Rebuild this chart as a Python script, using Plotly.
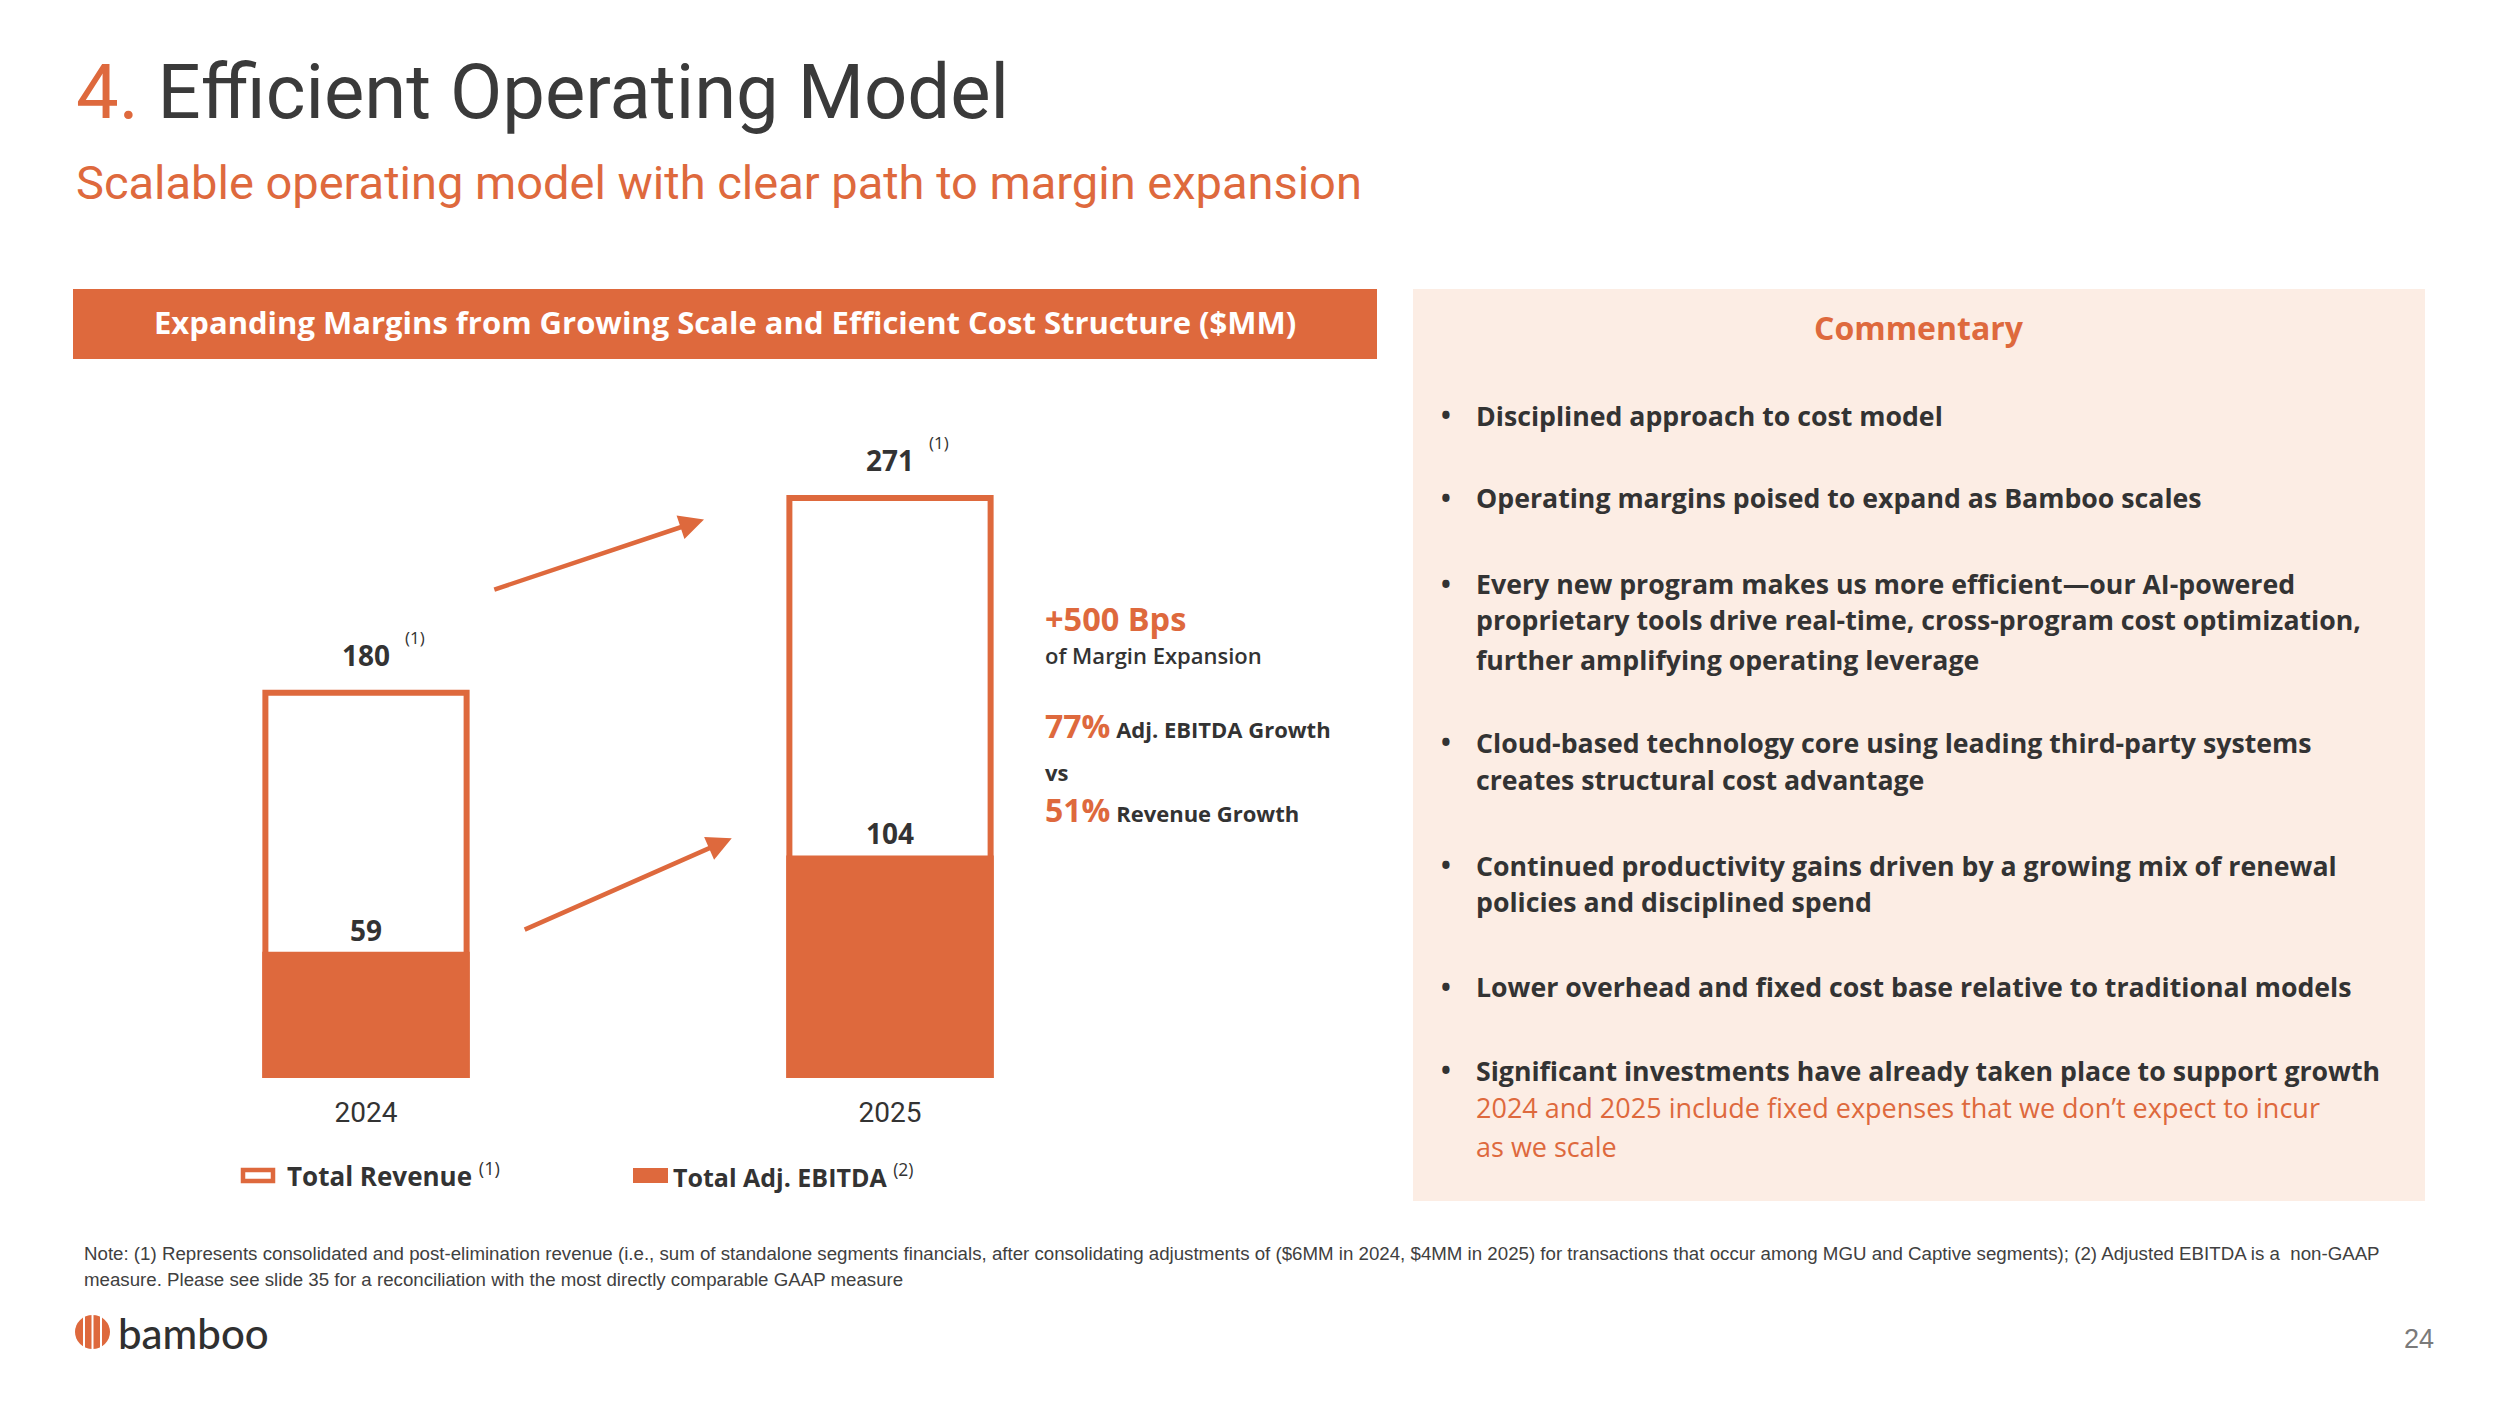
import plotly.graph_objects as go

W, H = 2500, 1406

# ---------------- data ----------------
years = ["2024", "2025"]
total_revenue = [180, 271]
adj_ebitda = [59, 104]
revenue_note = "(1)"
margin_expansion_bps = 500
ebitda_growth_pct = 77
revenue_growth_pct = 51

title_num = "4."
title_text = "Efficient Operating Model"
subtitle = "Scalable operating model with clear path to margin expansion"
chart_header = "Expanding Margins from Growing Scale and Efficient Cost Structure ($MM)"
legend_labels = ["Total Revenue", "Total Adj. EBITDA"]
legend_notes = ["(1)", "(2)"]
commentary_title = "Commentary"
bullets = [
    ["Disciplined approach to cost model"],
    ["Operating margins poised to expand as Bamboo scales"],
    ["Every new program makes us more efficient\u2014our AI-powered",
     "proprietary tools drive real-time, cross-program cost optimization,",
     "further amplifying operating leverage"],
    ["Cloud-based technology core using leading third-party systems",
     "creates structural cost advantage"],
    ["Continued productivity gains driven by a growing mix of renewal",
     "policies and disciplined spend"],
    ["Lower overhead and fixed cost base relative to traditional models"],
    ["Significant investments have already taken place to support growth"],
]
bullet_sub = ["2024 and 2025 include fixed expenses that we don\u2019t expect to incur",
              "as we scale"]
footnotes = [
    "Note: (1) Represents consolidated and post-elimination revenue (i.e., sum of standalone segments financials, after consolidating adjustments of ($6MM in 2024, $4MM in 2025) for transactions that occur among MGU and Captive segments); (2) Adjusted EBITDA is a  non-GAAP",
    "measure. Please see slide 35 for a reconciliation with the most directly comparable GAAP measure",
]
page_number = "24"
logo_text = "bamboo"

# ---------------- style ----------------
ORANGE = "#DE693D"
DARK = "#333333"
PEACH = "#FCEDE4"
FONT = "Roboto"
BODY = "Open Sans"


def px(x):
    return x / W


def py(y):
    return 1 - y / H


def txt(x, y, text, size, color=DARK, weight="normal", xanchor="left", family=BODY):
    return dict(x=px(x), y=py(y), xref="paper", yref="paper", text=text,
                showarrow=False, xanchor=xanchor, yanchor="middle",
                font=dict(family=family, size=size, color=color, weight=weight))


fig = go.Figure()

fig.add_trace(go.Bar(
    x=years, y=total_revenue, name=legend_labels[0], width=0.384,
    marker=dict(color="white", line=dict(color=ORANGE, width=6)),
    showlegend=False, hoverinfo="skip"))
fig.add_trace(go.Bar(
    x=years, y=adj_ebitda, name=legend_labels[1], width=0.396,
    marker=dict(color=ORANGE, line=dict(width=0)),
    showlegend=False, hoverinfo="skip"))

annotations = []
shapes = []

# title / subtitle
annotations.append(txt(74, 92, f"<span style='color:{ORANGE}'>{title_num}</span> {title_text}",
                       76, color="#3A3A3A", family=FONT))
annotations.append(txt(74, 182, subtitle, 47, color=ORANGE, family=FONT))

# chart header bar
shapes.append(dict(type="rect", xref="paper", yref="paper", x0=px(73), x1=px(1377),
                   y0=py(289), y1=py(359), fillcolor=ORANGE, line=dict(width=0), layer="below"))
annotations.append(txt(725, 322, chart_header, 31, color="white", weight="bold", xanchor="center"))

# commentary panel
shapes.append(dict(type="rect", xref="paper", yref="paper", x0=px(1413), x1=px(2425),
                   y0=py(289), y1=py(1201), fillcolor=PEACH, line=dict(width=0), layer="below"))
annotations.append(txt(1919, 327, commentary_title, 32, color=ORANGE, weight="bold",
                       xanchor="center"))

bullet_rows = [[415], [498], [584, 620, 659], [742, 779], [865, 902], [987], [1070]]
for lines, rows in zip(bullets, bullet_rows):
    annotations.append(txt(1439, rows[0], "\u2022", 26, color=DARK, weight="bold"))
    for line, yy in zip(lines, rows):
        annotations.append(txt(1474, yy, line, 26.7, color=DARK, weight="bold"))
for line, yy in zip(bullet_sub, [1107, 1146]):
    annotations.append(txt(1474, yy, line, 27, color=ORANGE))

# bar value labels (positioned on the data scale)
for i, rev in enumerate(total_revenue):
    annotations.append(dict(x=i, y=rev, xref="x", yref="y", text=f"<b>{rev}</b>",
                            showarrow=False, yanchor="bottom", yshift=17,
                            font=dict(family=BODY, size=28, color=DARK)))
    annotations.append(dict(x=i, y=rev, xref="x", yref="y", text=revenue_note,
                            showarrow=False, yanchor="bottom", yshift=42, xshift=49,
                            font=dict(family=BODY, size=17, color=DARK)))
for i, e in enumerate(adj_ebitda):
    annotations.append(dict(x=i, y=e, xref="x", yref="y", text=f"<b>{e}</b>",
                            showarrow=False, yanchor="bottom", yshift=1,
                            font=dict(family=BODY, size=28, color=DARK)))

# growth arrows (between the bars, on the data scale)
for (x0, y0, x1, y1) in [(0.242, 228, 0.645, 261), (0.30, 69, 0.698, 112)]:
    annotations.append(dict(x=x1, y=y1, ax=x0, ay=y0, xref="x", yref="y", axref="x", ayref="y",
                            text="", showarrow=True, arrowhead=2, arrowsize=1.1,
                            arrowwidth=4.5, arrowcolor=ORANGE, standoff=0))

# side statistics
annotations.append(txt(1043, 618, f"+{margin_expansion_bps} Bps", 32.5, color=ORANGE, weight="bold"))
annotations.append(txt(1043, 655, "of Margin Expansion", 22, color=DARK, weight=600))
annotations.append(txt(1043, 725,
                       f"<span style='font-size:32px;color:{ORANGE};font-weight:bold'>{ebitda_growth_pct}%</span> Adj. EBITDA Growth",
                       22, color=DARK, weight="bold"))
annotations.append(txt(1043, 772, "vs", 22, color=DARK, weight="bold"))
annotations.append(txt(1043, 809,
                       f"<span style='font-size:32px;color:{ORANGE};font-weight:bold'>{revenue_growth_pct}%</span> Revenue Growth",
                       22, color=DARK, weight="bold"))

# legend (custom)
shapes.append(dict(type="rect", xref="paper", yref="paper", x0=px(243), x1=px(273),
                   y0=py(1170), y1=py(1181), fillcolor="white", line=dict(color=ORANGE, width=4.5)))
annotations.append(txt(285, 1175, f"<b>{legend_labels[0]}</b> <sup>{legend_notes[0]}</sup>", 26))
shapes.append(dict(type="rect", xref="paper", yref="paper", x0=px(633), x1=px(668),
                   y0=py(1168), y1=py(1183), fillcolor=ORANGE, line=dict(width=0)))
annotations.append(txt(671, 1175, f"<b>{legend_labels[1]}</b> <sup>{legend_notes[1]}</sup>", 25))

# footnotes
for line, yy in zip(footnotes, [1253, 1279]):
    annotations.append(txt(82, yy, line, 18.7, color="#404040", family="Liberation Sans"))

# logo
shapes.append(dict(type="circle", xref="paper", yref="paper", x0=px(75), x1=px(110),
                   y0=py(1315), y1=py(1349), fillcolor=ORANGE, line=dict(width=0)))
for xx in [84, 92.5, 101]:
    shapes.append(dict(type="line", xref="paper", yref="paper", x0=px(xx), x1=px(xx),
                       y0=py(1314), y1=py(1350), line=dict(color="white", width=2)))
annotations.append(txt(116, 1333, logo_text, 42, color="#303030", family="Lato", weight=500))
annotations.append(txt(2436, 1339, page_number, 27, color="#7A7A7A", xanchor="right",
                       family="Liberation Sans"))

y_bottom, y_top = 1078, 400
fig.update_layout(
    width=W, height=H, margin=dict(l=0, r=0, t=0, b=0),
    paper_bgcolor="white", plot_bgcolor="rgba(0,0,0,0)",
    barmode="overlay", showlegend=False,
    xaxis=dict(domain=[px(104), px(1152)], range=[-0.5, 1.5], type="category",
               showgrid=False, zeroline=False, showline=False, ticks="",
               tickfont=dict(family=FONT, size=28, color=DARK), ticklabelstandoff=15),
    yaxis=dict(domain=[py(y_bottom), py(y_top)], range=[0, (y_bottom - y_top) / 2.14],
               showgrid=False, zeroline=False, showline=False, showticklabels=False, ticks=""),
    annotations=annotations, shapes=shapes,
    font=dict(family=FONT),
)

fig.write_html("out.html")
